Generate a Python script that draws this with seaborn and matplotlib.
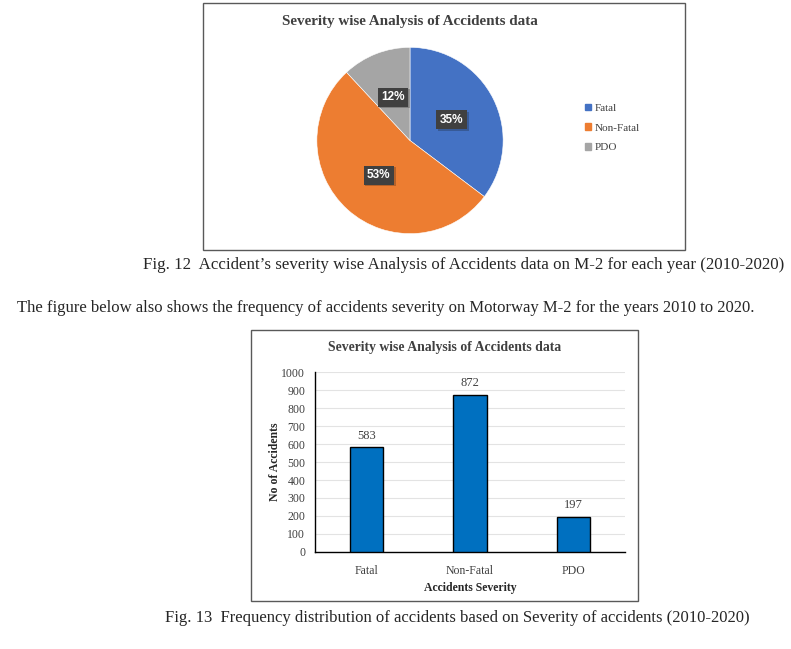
import numpy as np
import matplotlib
matplotlib.use("Agg")
import matplotlib.pyplot as plt
import matplotlib.patheffects as pe
import seaborn as sns
from matplotlib.patches import Rectangle, Patch

# data
severity = ["Fatal", "Non-Fatal", "PDO"]
accidents = [583, 872, 197]
pie_colors = ["#4472C4", "#ED7D31", "#A5A5A5"]
bar_color = "#0070C0"
y_ticks = list(range(0, 1001, 100))

title = "Severity wise Analysis of Accidents data"
cap12 = "Fig. 12  Accident\u2019s severity wise Analysis of Accidents data on M-2 for each year (2010-2020)"
para = "The figure below also shows the frequency of accidents severity on Motorway M-2 for the years 2010 to 2020."
cap13 = "Fig. 13  Frequency distribution of accidents based on Severity of accidents (2010-2020)"

sns.set_style("white")
plt.rcParams["font.family"] = ["Liberation Serif", "DejaVu Serif"]

W, H = 791, 649
fig = plt.figure(figsize=(W / 100, H / 100), dpi=100)


def box(x0, y0, x1, y1):
    # pixel coords (top-left origin) -> figure fraction
    return [x0 / W, 1 - y1 / H, (x1 - x0) / W, (y1 - y0) / H]


def fx(x):
    return x / W


def fy(y):
    return 1 - y / H


# frames around the two charts
for x0, y0, x1, y1 in [(203, 3, 685, 250), (251, 330, 638, 601)]:
    fig.patches.append(Rectangle((fx(x0), fy(y1)), (x1 - x0) / W, (y1 - y0) / H,
                                 transform=fig.transFigure, fill=False,
                                 ec="#595959", lw=1))

# ---- pie ----
ax1 = fig.add_axes(box(315, 45.5, 505, 235.5))
wedges, texts, autotexts = ax1.pie(
    accidents, colors=pie_colors, startangle=90, counterclock=False,
    autopct="%1.0f%%", pctdistance=0.5,
    wedgeprops=dict(linewidth=0.4, edgecolor="white"),
    textprops=dict(color="white", fontweight="bold", fontsize=8.5,
                   family=["Liberation Sans", "DejaVu Sans"]))
for t in autotexts:
    t.set_bbox(dict(boxstyle="square,pad=0.3", fc="#404040", ec="none"))
    t.get_bbox_patch().set_path_effects(
        [pe.withSimplePatchShadow(offset=(1.2, -1.2), alpha=0.25), pe.Normal()])
ax1.set_xlim(-1.02, 1.02)
ax1.set_ylim(-1.02, 1.02)
ax1.axis("off")

fig.text(fx(410), fy(21), title, ha="center", va="center",
         fontsize=10.9, fontweight="bold", color="#404040")

handles = [Patch(color=c) for c in pie_colors]
fig.legend(handles, severity, loc="center left", bbox_to_anchor=(fx(575), fy(128)),
           frameon=False, fontsize=8, handlelength=0.55, handleheight=0.55,
           handletextpad=0.3, labelspacing=0.95, labelcolor="#404040")

# ---- text between ----
fig.text(fx(143), fy(265), cap12, ha="left", va="center", fontsize=12.2)
fig.text(fx(17), fy(308), para, ha="left", va="center", fontsize=12)
fig.text(fx(165), fy(618), cap13, ha="left", va="center", fontsize=12)

# ---- bar chart ----
ax2 = fig.add_axes(box(315, 372, 625, 552))
sns.barplot(x=severity, y=accidents, color=bar_color, saturation=1,
            width=0.32, edgecolor="black", linewidth=1, ax=ax2, zorder=3)
ax2.set_ylim(0, 1000)
ax2.set_yticks(y_ticks)
ax2.yaxis.grid(True, color="#E3E3E3", lw=0.8, zorder=0)
ax2.set_axisbelow(True)
for s in ["top", "right"]:
    ax2.spines[s].set_visible(False)
for s in ["left", "bottom"]:
    ax2.spines[s].set_color("black")
    ax2.spines[s].set_linewidth(1)
ax2.tick_params(axis="both", length=0, labelsize=8.5, labelcolor="#404040", pad=7)
ax2.tick_params(axis="x", pad=9)
ax2.bar_label(ax2.containers[0], padding=4, fontsize=9, color="#404040")
ax2.set_xlabel("Accidents Severity", fontsize=8.5, fontweight="bold", labelpad=4)
ax2.set_ylabel("No of Accidents", fontsize=8.5, fontweight="bold", labelpad=0)

fig.text(fx(445), fy(348), title, ha="center", va="center",
         fontsize=9.9, fontweight="bold", color="#404040")

fig.savefig("out.png", dpi=100)
